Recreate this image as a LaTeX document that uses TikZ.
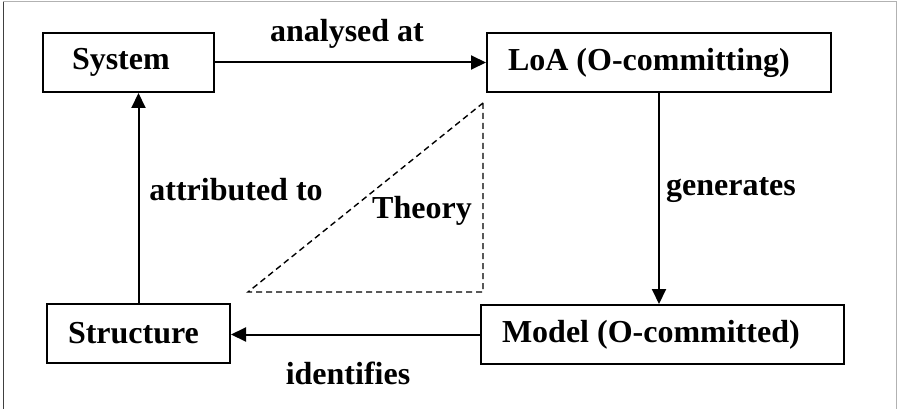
\documentclass[tikz,border=0pt]{standalone}
\usepackage{fontspec}
\setmainfont{Liberation Serif}
\usetikzlibrary{arrows.meta, positioning, calc}

\newcommand{\boxtext}[2]{\makebox[#1][l]{#2}}

\begin{document}
\begin{tikzpicture}[x=1pt, y=-1pt,
    box/.style={draw, line width=2pt, minimum height=59pt, inner xsep=21pt, inner ysep=0pt, font=\fontsize{32}{38}\selectfont\bfseries},
    lbl/.style={font=\fontsize{32}{38}\selectfont\bfseries, inner sep=0pt},
    arr/.style={line width=2pt, -{Triangle[length=15pt, width=14pt]}},
    theory/.style={line width=1.4pt, dash pattern=on 6pt off 4pt}]
  \useasboundingbox (0,0) rectangle (897,409);

  % Frame
  \draw[black!75, line width=1pt] (3,409) -- (3,2);
  \draw[gray!60, line width=1pt] (3,2) -- (896,2) -- (896,409);

  % Boxes
  \node[box, inner xsep=29pt] (system) at (128.5,62.5) {\boxtext{113pt}{System}};
  \node[box] (loa) at (659,62.5) {\boxtext{302pt}{LoA (O-committing)}};
  \node[box] (model) at (662.5,334.5) {\boxtext{321pt}{Model (O-committed)}};
  \node[box] (structure) at (138.5,333.5) {\boxtext{141pt}{Structure}};

  % Theory triangle
  \coordinate (t1) at (483,103);
  \coordinate (t2) at (483,292);
  \coordinate (t3) at (248,292);
  \draw[theory] (t1) -- (t2) -- (t3) -- cycle;
  \node[lbl] (theorylbl) at (422,211) {Theory};

  % Arrows
  \draw[arr] (system) -- (loa);
  \draw[arr] (loa) -- (loa |- model.north);
  \draw[arr] (model.west) -- (model.west -| structure.east);
  \draw[arr] (structure) -- (structure |- system.south);

  % Labels
  \node[lbl] (analysed) at (347,34) {analysed at};
  \node[lbl] (generates) at (731,190) {generates};
  \node[lbl] (identifies) at (348,373) {identifies};
  \node[lbl] (attributed) at (236,190) {attributed to};
\end{tikzpicture}
\end{document}
